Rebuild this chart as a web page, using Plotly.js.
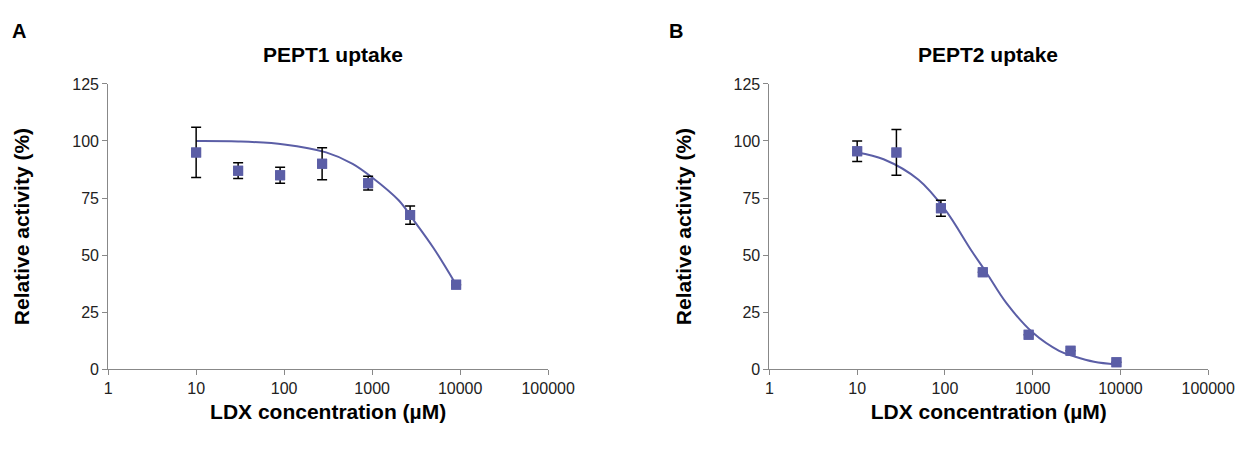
<!DOCTYPE html>
<html>
<head>
<script src="https://cdn.plot.ly/plotly-3.0.1.min.js"></script>
<style>body{margin:0}#chart{width:1243px;height:449px}</style>
</head>
<body>
<div id="chart"></div>
<script>
// Measured points, panel A (PEPT1)
var xA = [10, 30, 90, 270, 900, 2700, 9000];
var yA = [95, 87, 85, 90, 81.5, 67.5, 37];
var errA = [11, 3.5, 3.5, 7, 3, 4, 0];

// Fitted curve, panel A
var curveXA = [10, 30, 100, 300, 600, 1000, 2000, 3000, 5000, 9000];
var curveYA = [100, 99.8, 98.5, 95, 90, 84, 74, 65, 53, 37];

// Measured points, panel B (PEPT2)
var xB = [10, 28, 90, 270, 900, 2700, 9000];
var yB = [95.5, 95, 70.5, 42.5, 15, 8, 3];
var errB = [4.5, 10, 3.5, 0, 0, 0, 0];

// Fitted curve, panel B
var curveXB = [10, 20, 50, 100, 200, 300, 500, 1000, 2000, 3000, 5000, 9000];
var curveYB = [95, 92, 83, 70, 52, 42, 29, 16, 8, 5.5, 3.2, 2];

var tickVals = [1, 10, 100, 1000, 10000, 100000];
var tickText = ['1', '10', '100', '1000', '10000', '100000'];
var COLOR = '#5b5ea6';

function pts(x, y, e, xa, ya) {
    return {x: x, y: y, xaxis: xa, yaxis: ya, mode: 'markers', type: 'scatter',
        marker: {symbol: 'square', size: 10, color: COLOR},
        error_y: {type: 'data', array: e, visible: true, color: '#000', thickness: 1.5, width: 5}};
}
function fit(x, y, xa, ya) {
    return {x: x, y: y, xaxis: xa, yaxis: ya, mode: 'lines', type: 'scatter',
        line: {color: COLOR, width: 2, shape: 'spline'}};
}

// Fit lines first, markers with error bars on top
var data = [
    fit(curveXA, curveYA, 'x', 'y'), fit(curveXB, curveYB, 'x2', 'y2'),
    pts(xA, yA, errA, 'x', 'y'), pts(xB, yB, errB, 'x2', 'y2')
];
// markers drawn over their own error caps
data.push(Object.assign({}, data[2], {error_y: {visible: false}}));
data.push(Object.assign({}, data[3], {error_y: {visible: false}}));

function xaxis(dom, anchor) {
    return {type: 'log', domain: dom, anchor: anchor, range: [0, 5], tickvals: tickVals, ticktext: tickText,
        showgrid: false, zeroline: false, showline: true, linecolor: '#888', ticks: 'outside', automargin: false,
        tickcolor: '#888', ticklen: 5, tickfont: {size: 16, color: '#222'},
        title: {text: '<b>LDX concentration (µM)</b>', font: {size: 21, color: '#000'}, standoff: 8}};
}
function yaxis(anchor) {
    return {domain: [0.178, 0.813], anchor: anchor, range: [0, 125], tickvals: [0, 25, 50, 75, 100, 125],
        showgrid: false, zeroline: false, showline: true, linecolor: '#888', ticks: 'outside', automargin: false,
        tickcolor: '#888', ticklen: 5, tickfont: {size: 16, color: '#222'},
        title: {text: '<b>Relative activity (%)</b>', font: {size: 21, color: '#000'}, standoff: 36}};
}

var layout = {
    width: 1243, height: 449, showlegend: false,
    margin: {l: 0, r: 0, t: 0, b: 0},
    paper_bgcolor: '#fff', plot_bgcolor: '#fff',
    font: {family: 'Arial, Liberation Sans, sans-serif', color: '#000'},
    xaxis: xaxis([0.087, 0.441], 'y'), yaxis: yaxis('x'),
    xaxis2: xaxis([0.619, 0.972], 'y2'), yaxis2: yaxis('x2'),
    annotations: [
        {text: '<b>A</b>', x: 0.008, y: 0.96, xref: 'paper', yref: 'paper', showarrow: false, xanchor: 'left', font: {size: 20, color: '#000'}},
        {text: '<b>B</b>', x: 0.537, y: 0.96, xref: 'paper', yref: 'paper', showarrow: false, xanchor: 'left', font: {size: 20, color: '#000'}},
        {text: '<b>PEPT1 uptake</b>', x: 0.268, y: 0.908, xref: 'paper', yref: 'paper', showarrow: false, xanchor: 'center', font: {size: 21, color: '#000'}},
        {text: '<b>PEPT2 uptake</b>', x: 0.795, y: 0.908, xref: 'paper', yref: 'paper', showarrow: false, xanchor: 'center', font: {size: 21, color: '#000'}}
    ]
};

Plotly.newPlot('chart', data, layout, {displayModeBar: false});
</script>
</body>
</html>
